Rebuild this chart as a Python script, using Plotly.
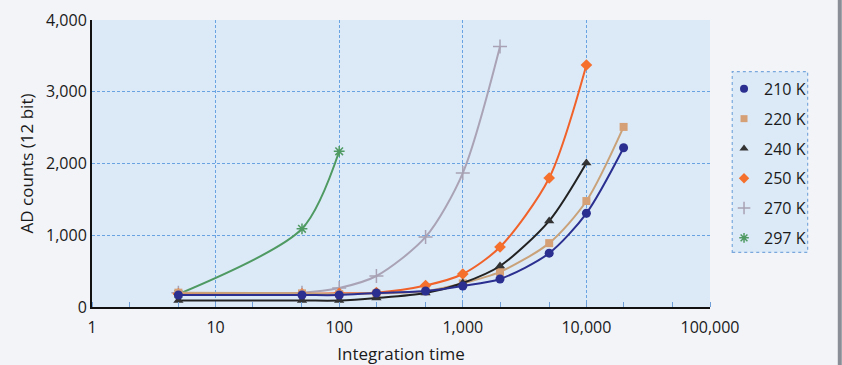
import plotly.graph_objects as go

# ---- data ----
names = ["210 K", "220 K", "240 K", "250 K", "270 K", "297 K"]

x_210 = [5, 50, 100, 200, 500, 1000, 2000, 5000, 10000, 20000]
y_210 = [167, 167, 167, 195, 223, 293, 390, 750, 1306, 2220]

x_220 = [5, 50, 100, 200, 500, 1000, 2000, 5000, 10000, 20000]
y_220 = [200, 190, 180, 190, 220, 330, 490, 890, 1477, 2510]

x_240 = [5, 50, 100, 200, 500, 1000, 2000, 5000, 10000]
y_240 = [90, 90, 90, 125, 195, 335, 572, 1200, 2007]

x_250 = [5, 50, 100, 200, 500, 1000, 2000, 5000, 10000]
y_250 = [185, 185, 190, 200, 300, 460, 836, 1798, 3373]

x_270 = [5, 50, 100, 200, 500, 1000, 2000]
y_270 = [200, 200, 265, 432, 976, 1867, 3630]

x_297 = [5, 50, 100]
y_297 = [180, 1090, 2170]

xs = [x_210, x_220, x_240, x_250, x_270, x_297]
ys = [y_210, y_220, y_240, y_250, y_270, y_297]

line_colors = ["#2b2f8f", "#c9a27a", "#222222", "#f0622a", "#aaa3b6", "#4f9a62"]
marker_colors = ["#2b2f8f", "#d6a077", "#333333", "#f5702c", "#a8a2b4", "#4f9a62"]
symbols = ["circle", "square", "triangle-up", "diamond", "cross-thin", "asterisk"]
msizes = [9, 8, 9, 9, 10, 9]

x_ticks = [1, 10, 100, 1000, 10000, 100000]
x_ticklabels = ["1", "10", "100", "1,000", "10,000", "100,000"]
y_ticks = [0, 1000, 2000, 3000, 4000]
y_ticklabels = ["0", "1,000", "2,000", "3,000", "4,000"]

FONT = "Open Sans"

fig = go.Figure()

order = [5, 4, 3, 1, 2, 0]
for i in order:
    sym = symbols[i]
    marker = dict(symbol=sym, size=msizes[i], color=marker_colors[i])
    if sym in ("cross-thin", "asterisk"):
        marker["line"] = dict(color=marker_colors[i], width=1.5)
    fig.add_trace(go.Scatter(
        x=xs[i], y=ys[i], mode="lines+markers",
        line=dict(color=line_colors[i], width=2, shape="spline", smoothing=0.8),
        marker=marker, showlegend=False, hoverinfo="skip"))

for i in range(6):
    sym = symbols[i]
    marker = dict(symbol=sym, size=msizes[i] - 1, color=marker_colors[i])
    if sym in ("cross-thin", "asterisk"):
        marker["line"] = dict(color=marker_colors[i], width=1.5)
    fig.add_trace(go.Scatter(
        x=[None], y=[None], mode="markers", name=names[i],
        marker=marker, legendgroup=names[i], showlegend=True))

fig.update_layout(
    width=842, height=365,
    margin=dict(l=92, r=132, t=20, b=58, autoexpand=False),
    paper_bgcolor="#f2f4f8",
    plot_bgcolor="#dceaf8",
    font=dict(family=FONT, size=16, color="#1a1a1a"),
    showlegend=True,
    legend=dict(
        x=1.0227, y=0.819, xanchor="left", yanchor="top",
        bgcolor="rgba(0,0,0,0)", borderwidth=0,
        font=dict(family=FONT, size=16, color="#1a1a1a"),
        tracegroupgap=6, itemwidth=30,
    ),
    shapes=[
        dict(type="rect", xref="paper", yref="paper",
             x0=1.036, x1=1.158, y0=0.19, y1=0.82,
             line=dict(color="#7aa8dc", width=1.2, dash="dot"),
             fillcolor="#dceaf8", layer="below"),
        dict(type="line", xref="paper", yref="paper",
             x0=1.21, x1=1.21, y0=-0.25, y1=1.1,
             line=dict(color="#8a8e96", width=4)),
    ],
)

fig.update_xaxes(
    type="log", range=[0, 5], automargin=False,
    tickvals=x_ticks, ticktext=x_ticklabels,
    showgrid=True, gridcolor="#6aa3e2", griddash="3px,2px", gridwidth=1,
    showline=True, linecolor="#111111", linewidth=2,
    ticks="", zeroline=False, ticklabelstandoff=5,
    minor=dict(ticks="inside", ticklen=5, tickcolor="#6f9fd6", showgrid=False),
    title=dict(text="Integration time", font=dict(family=FONT, size=17), standoff=14),
    tickfont=dict(family=FONT, size=16),
)
fig.update_yaxes(
    range=[0, 4000], automargin=False,
    tickvals=y_ticks, ticktext=y_ticklabels,
    showgrid=True, gridcolor="#6aa3e2", griddash="3px,2px", gridwidth=1,
    showline=True, linecolor="#111111", linewidth=2,
    ticks="", zeroline=False,
    title=dict(text="AD counts (12 bit)", font=dict(family=FONT, size=17), standoff=8),
    tickfont=dict(family=FONT, size=16),
)

fig.write_html(
    "out.html",
    config={"displayModeBar": False},
    post_script="document.body.style.margin='0';document.body.style.overflow='hidden';",
)
